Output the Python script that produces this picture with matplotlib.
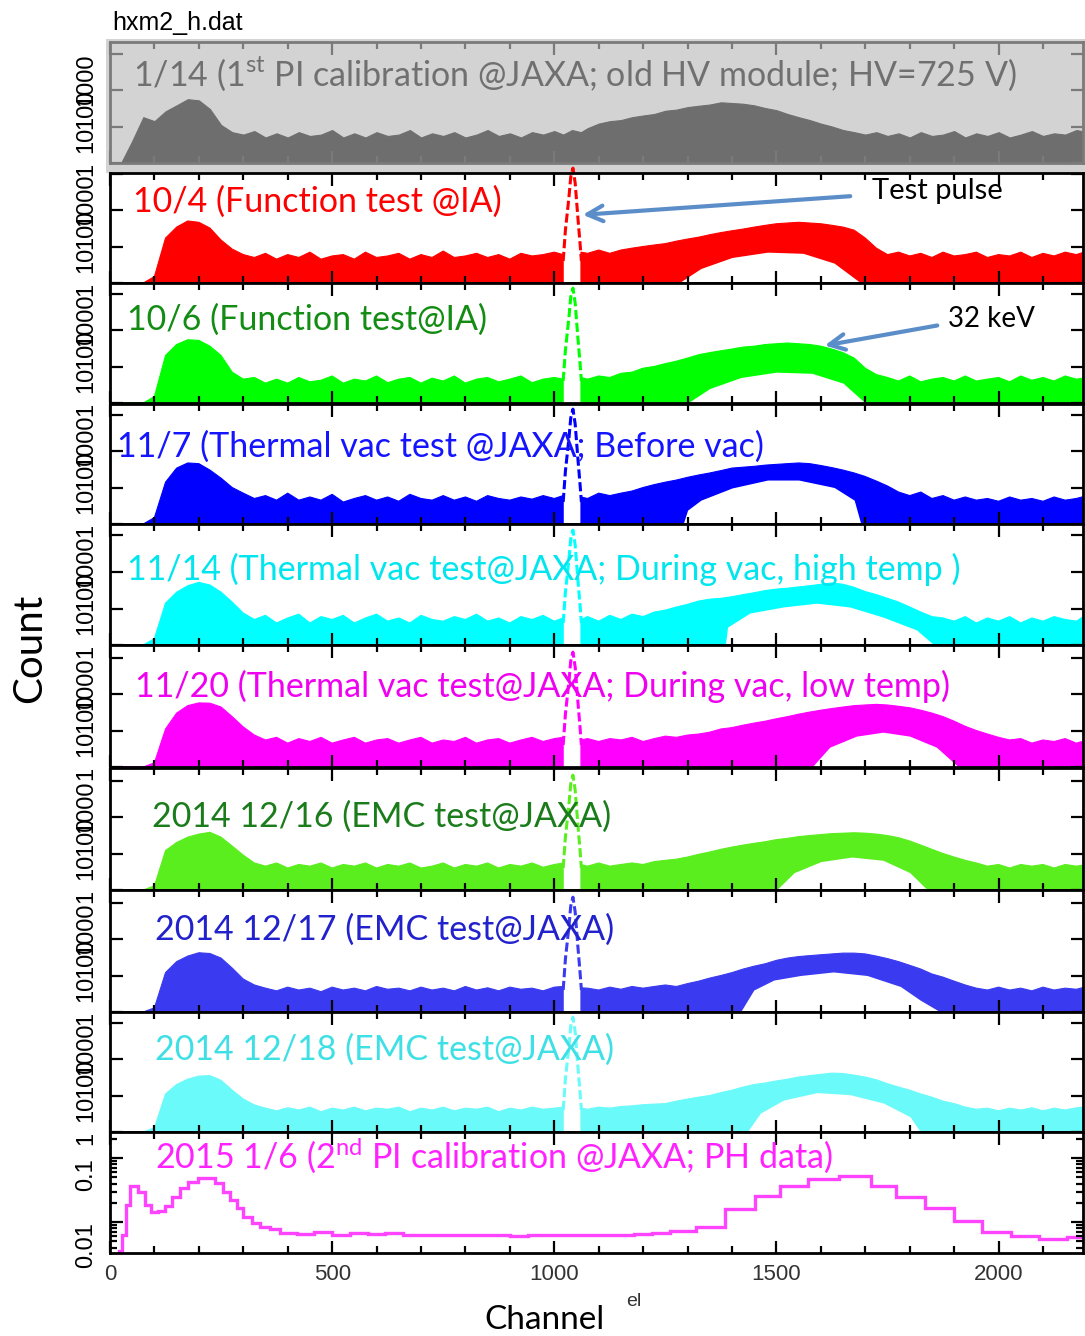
import numpy as np
import matplotlib
matplotlib.use('Agg')
import matplotlib.pyplot as plt
from matplotlib.patches import Rectangle
from matplotlib.ticker import MultipleLocator, LogLocator, NullFormatter

plt.rcParams['font.family'] = ['Lato', 'DejaVu Sans']
plt.rcParams['mathtext.fontset'] = 'custom'
plt.rcParams['mathtext.rm'] = 'Lato'

nan = np.nan

# channel grid of the spectra (gap at 1040 = test pulse window)
channel = np.r_[np.arange(0, 1001, 25), [1020, 1040, 1060], np.arange(1075, 2201, 25)]

# upper envelope of each spectrum (counts per channel)
gray_top = [1, 1, 4, 18, 14, 26, 38, 56, 52, 30,
            11, 7, 6, 7.5, 5, 6.5, 5, 7, 5.5, 6,
            8, 5, 6.5, 5, 7, 5.5, 6, 8, 5, 6.5,
            5.5, 7, 5, 6, 8, 5.5, 6.5, 5, 7, 6,
            7.5, 6, 8, 7, 9, 12, 14, 15, 18, 20,
            22, 27, 29, 34, 37, 40, 46, 44, 42, 38,
            32, 28, 22, 18, 15, 12, 10, 8, 7, 6,
            7, 5.5, 6.5, 5, 7, 5.5, 6, 7.5, 5, 6.5,
            5.5, 7, 5, 6, 7.5, 5.5, 6.5, 6, 8, 7]
red_top = [1, 1, 1, 1, 1.5, 17, 34, 50, 46, 32,
           15, 8.5, 6, 5, 6.5, 4.5, 6, 5, 7, 4.5,
           5.5, 6, 4.5, 7, 5, 5.5, 6.5, 4.5, 6, 5,
           7.5, 5, 5.5, 6.5, 5, 6, 4.5, 6.5, 5.5, 6,
           7, 6, nan, 7, 6.5, 8, 6.5, 8, 9, 10,
           11, 12, 14, 16, 18, 21, 24, 27, 30, 34,
           38, 42, 44, 46, 44, 42, 38, 34, 28, 17,
           9, 6, 7, 5.5, 6.5, 5, 7, 5.5, 6, 7,
           5, 6, 5.5, 7, 5, 6.5, 5.5, 7, 6, 7.5]
green_top = [1, 1, 1, 1, 1.5, 20, 40, 54, 52, 36,
             20, 7, 4.5, 5, 3.5, 4.5, 3.5, 5, 3.8, 4.2,
             5.5, 3.5, 4.5, 4, 5.5, 3.6, 4.5, 5, 3.5, 4.8,
             4, 5.5, 3.5, 4.5, 5, 3.8, 4.5, 5.5, 3.6, 4.5,
             5, 4.5, nan, 5, 4.5, 5.5, 5, 6.5, 7, 9,
             10, 12, 14, 17, 21, 24, 27, 30, 34, 36,
             40, 42, 44, 42, 40, 36, 30, 24, 17, 9,
             6, 5, 4, 5.5, 3.8, 4.5, 5, 4, 5.5, 4,
             4.5, 5, 3.8, 5.5, 4.2, 5, 4, 5.5, 4.5, 5]
blue_top = [1, 1, 1, 1, 1.5, 14, 34, 47, 45, 30,
            18, 10, 7, 5, 6, 4.5, 7, 4.5, 5.5, 4.5,
            6.5, 4, 5, 6, 4.5, 5.5, 4.2, 6.5, 5, 4.5,
            6, 4.5, 5.5, 4.2, 6, 5, 4.5, 5.5, 4.8, 6,
            5, 6, nan, 5.5, 5, 7, 6, 7, 8, 10,
            12, 14, 16, 19, 22, 25, 29, 34, 36, 38,
            41, 43, 45, 47, 45, 40, 35, 30, 25, 20,
            15, 11, 7.5, 6, 7.5, 5, 6, 4.5, 5.5, 4.5,
            5, 4.2, 5.5, 4.5, 5, 4.2, 5.5, 4.5, 5, 6]
cyan_top = [1, 1, 1, 1, 1.5, 14, 28, 42, 52, 44,
            28, 15, 7.5, 5, 6.5, 4, 5.5, 7, 4, 6,
            5, 6.5, 4, 5.5, 7, 4.5, 5.5, 4, 6.5, 5,
            4.5, 6, 5, 7, 4.5, 5.5, 4, 6, 5, 6.5,
            4.5, 5.5, nan, 5, 6, 4.5, 6.5, 5, 7, 6,
            8, 9, 11, 13, 16, 18, 19, 21, 24, 27,
            31, 34, 36, 39, 42, 46, 50, 46, 38, 29,
            24, 19, 15, 11, 8, 6, 5.5, 4.5, 6, 4,
            5.5, 4.5, 6, 4, 5.5, 4.5, 6, 5, 4.5, 7]
magenta_top = [1, 1, 1, 1, 1.3, 11, 30, 48, 57, 56,
               44, 24, 12.5, 7.5, 5.5, 6.5, 4.5, 6, 5, 6.5,
               4.5, 5.5, 6.5, 4.5, 5.5, 6, 4.5, 5.5, 6.5, 4.5,
               5.5, 5, 6.5, 4.5, 5.5, 6, 4.5, 5.5, 6.5, 5,
               6, 6.5, nan, 5.5, 6, 5, 6, 5.5, 6.5, 5,
               6, 7, 6.5, 7.5, 8, 9, 11, 12, 14, 16,
               18, 21, 24, 28, 32, 36, 40, 44, 48, 50,
               52, 50, 46, 42, 36, 30, 24, 18, 13, 10,
               8, 6.5, 5.5, 6, 4.5, 5.5, 5, 6, 4.5, 5.5]
green2_top = [1, 1, 1, 1, 1.3, 12, 20, 28, 34, 38,
              28, 16, 9, 5.5, 4.5, 5.5, 4, 5, 4.5, 5.5,
              4, 5, 4.5, 5.5, 4, 5, 4.5, 5.5, 4, 4.5,
              5.5, 4, 5, 4.5, 5.5, 4, 5, 4.5, 5.5, 4.2,
              5, 5.5, nan, 5, 4.5, 5.5, 4.5, 5, 5.5, 5,
              6, 6.5, 7, 8, 9.5, 11, 13, 15, 17, 19,
              21, 24, 26, 29, 31, 33, 35, 36, 37, 36,
              34, 31, 27, 22, 17, 13, 10, 8, 6.5, 5.5,
              4.5, 5, 4, 5, 4.5, 5, 4, 5, 4.5, 5]
blue2_top = [1, 1, 1, 1, 1.3, 12, 24, 34, 42, 40,
             30, 16, 8, 5.5, 4.5, 3.8, 4.8, 4, 4.5, 3.6,
             4.8, 4, 4.5, 3.8, 5, 4.2, 4.5, 3.8, 4.8, 4,
             4.5, 3.8, 5, 4, 4.6, 3.8, 4.8, 4.2, 4.5, 3.8,
             4.8, 5, nan, 4.6, 4.5, 4, 4.8, 4.2, 5, 4.5,
             5, 5.5, 5, 6, 7, 8.5, 10, 12, 15, 18,
             21, 26, 30, 33, 35, 37, 39, 41, 41, 39,
             34, 29, 24, 19, 15, 11, 9, 7, 5.5, 4.5,
             4, 4.8, 4, 4.5, 3.8, 4.8, 4, 4.5, 4.2, 5]
cyan2_top = [1, 1, 1, 1, 1.3, 11, 20, 28, 34, 35,
             26, 14, 8, 5.5, 4.5, 3.8, 4.6, 4, 4.8, 3.6,
             4.5, 4, 4.8, 3.8, 4.5, 4.2, 4.8, 3.6, 4.5, 4,
             4.8, 3.8, 4.5, 4.2, 4.8, 3.6, 4.5, 4, 4.8, 4.2,
             4.5, 4.8, nan, 4.5, 4.2, 4.8, 4.5, 5, 5.2, 5.6,
             5.8, 6, 7, 8, 9, 10, 12, 14, 17, 20,
             22, 25, 28, 32, 35, 38, 41, 40, 36, 32,
             27, 21, 17, 14, 11, 9, 7, 6, 4.8, 4.2,
             4.5, 3.8, 4.5, 4, 4.6, 3.8, 4.5, 4, 4.6, 5]

# lower edge of the 32 keV line where the spectrum lifts off the axis
red_hole_ch = [1280, 1330, 1400, 1480, 1560, 1630, 1690]
red_hole = [1, 2.5, 5, 7, 6.5, 3.5, 1]
green_hole_ch = [1300, 1350, 1420, 1500, 1580, 1650, 1700]
green_hole = [1, 2.5, 5, 7, 6.5, 3.5, 1]
blue_hole_ch = [1290, 1300, 1330, 1400, 1480, 1550, 1630, 1675, 1690]
blue_hole = [1, 2.4, 4.5, 9.7, 16, 16, 10, 4.5, 1]
cyan_hole_ch = [1385, 1390, 1440, 1515, 1590, 1665, 1740, 1815, 1855]
cyan_hole = [1, 3.1, 7.5, 11, 14, 11, 5.8, 2.6, 1]
magenta_hole_ch = [1580, 1620, 1680, 1740, 1800, 1860, 1910]
magenta_hole = [1, 3.5, 7, 9, 7, 3.5, 1]
green2_hole_ch = [1500, 1540, 1600, 1670, 1740, 1800, 1840]
green2_hole = [1, 3, 6, 8, 6.5, 3, 1]
blue2_hole_ch = [1419, 1449, 1494, 1554, 1628, 1704, 1779, 1824, 1869]
blue2_hole = [1, 4, 7.5, 10, 12.5, 10, 5, 2.1, 1]
cyan2_hole_ch = [1434, 1464, 1516, 1591, 1666, 1741, 1801, 1824]
cyan2_hole = [1, 3.3, 7.5, 12, 10.5, 6.2, 2.6, 1]

# test pulse
pulse_ch = [1020, 1025, 1033, 1037, 1042, 1047, 1053, 1058, 1061]
pulse_counts = [4, 28, 225, 800, 1400, 550, 64, 12, 4]

# 2015 1/6 PH spectrum (normalised histogram)
ph_edges = [20, 27, 36, 45, 63, 79, 92, 108, 124, 140, 158, 176, 198, 218, 236,
            255, 270, 286, 300, 320, 338, 360, 383, 420, 460, 500, 540, 580, 620,
            660, 700, 740, 780, 820, 860, 900, 940, 980, 1020, 1060, 1100, 1140,
            1180, 1220, 1260, 1320, 1385, 1452, 1509, 1572, 1640, 1712, 1770,
            1835, 1899, 1963, 2027, 2090, 2155, 2200]
ph_values = [0.0036, 0.0063, 0.0185, 0.0365, 0.0294, 0.0185, 0.0143, 0.0150,
             0.0178, 0.0246, 0.034, 0.0422, 0.0487, 0.048, 0.0407, 0.0294,
             0.0221, 0.0166, 0.012, 0.0096, 0.0084, 0.0078, 0.0068, 0.0066,
             0.0070, 0.0063, 0.0068, 0.0065, 0.0067, 0.0062, 0.0064, 0.0063,
             0.0062, 0.0064, 0.0062, 0.0061, 0.0063, 0.0062, 0.0064, 0.0063,
             0.0062, 0.0064, 0.0066, 0.0068, 0.0072, 0.0085, 0.016, 0.0255,
             0.0372, 0.0478, 0.053, 0.0372, 0.0246, 0.0166, 0.0105, 0.0070,
             0.0060, 0.0055, 0.0058]

labels = [
    "1/14 (1$^{\\mathrm{st}}$ PI calibration @JAXA; old HV module; HV=725 V)",
    "10/4 (Function test @IA)",
    "10/6 (Function test@IA)",
    "11/7 (Thermal vac test @JAXA; Before vac)",
    "11/14 (Thermal vac test@JAXA; During vac, high temp )",
    "11/20 (Thermal vac test@JAXA; During vac, low temp)",
    "2014 12/16 (EMC test@JAXA)",
    "2014 12/17 (EMC test@JAXA)",
    "2014 12/18 (EMC test@JAXA)",
    "2015 1/6 (2$^{\\mathrm{nd}}$ PI calibration @JAXA; PH data)",
]

W, H = 1085, 1336
px_decade = 36.5
rows = [(42, 163), (173, 283), (283, 403), (404, 524), (524, 645),
        (645, 767), (768, 890), (890, 1012), (1012, 1132), (1132, 1253)]
label_xy = [(133, 86), (133, 212), (127, 330), (117, 457), (127, 580),
            (135, 697), (152, 827), (155, 940), (155, 1060), (155, 1168)]
label_colors = ['#707070', '#ff0000', '#128c12', '#1414ff', '#00e6ee',
                '#f000f0', '#1b7c1b', '#2222cc', '#3ee0e6', '#ff22ff']

spectra = [(gray_top, '#6e6e6e', None, None),
           (red_top, '#ff0000', red_hole_ch, red_hole),
           (green_top, '#00ff00', green_hole_ch, green_hole),
           (blue_top, '#0000ff', blue_hole_ch, blue_hole),
           (cyan_top, '#00ffff', cyan_hole_ch, cyan_hole),
           (magenta_top, '#ff00ff', magenta_hole_ch, magenta_hole),
           (green2_top, '#5aee1e', green2_hole_ch, green2_hole),
           (blue2_top, '#3a3af0', blue2_hole_ch, blue2_hole),
           (cyan2_top, '#6afafa', cyan2_hole_ch, cyan2_hole)]

fig = plt.figure(figsize=(W / 100, H / 100), dpi=100)
# grey backdrop behind the first spectrum
fig.patches.append(Rectangle((106 / W, 1 - 173 / H), (W - 106) / W, 134 / H,
                             transform=fig.transFigure, fc='#d3d3d3', ec='none', zorder=-1))

axes = []
for i, (top, bot) in enumerate(rows):
    ax = fig.add_axes([110 / W, 1 - bot / H, (1083 - 110) / W, (bot - top) / H])
    edge = '#7a7a7a' if i == 0 else 'black'
    ax.set_xlim(0, 2190)
    ax.set_yscale('log')
    if i < 9:
        ax.set_ylim(1, 10 ** ((bot - top) / px_decade))
        ax.set_yticks([1, 10, 100, 1000])
        ax.set_yticklabels(['1', '10', '100', '1000'])
    else:
        ax.set_ylim(0.0033, 0.255)
        ax.set_yticks([0.01, 0.1])
        ax.set_yticklabels(['0.01', '0.1'])
    ax.yaxis.set_minor_locator(LogLocator(subs=np.arange(2, 10)))
    ax.yaxis.set_minor_formatter(NullFormatter())
    ax.xaxis.set_major_locator(MultipleLocator(500))
    ax.xaxis.set_minor_locator(MultipleLocator(100))
    ax.tick_params(which='both', direction='in', top=True, right=True,
                   width=1.6, color=edge)
    ax.tick_params(which='major', length=9)
    ax.tick_params(which='minor', length=5)
    ax.tick_params(axis='y', labelsize=17, pad=9)
    for lab in ax.get_yticklabels():
        lab.set_rotation(90)
        lab.set_va('top')
        lab.set_family('Liberation Sans')
    if i < 9:
        ax.tick_params(axis='x', labelbottom=False)
    else:
        ax.tick_params(axis='x', labelsize=16, labelcolor='#333333', pad=8)
        for lab in ax.get_xticklabels():
            lab.set_family('Liberation Sans')
    for s in ax.spines.values():
        s.set_linewidth(2)
        s.set_color(edge)
    ax.set_facecolor('#d3d3d3' if i == 0 else 'white')
    axes.append(ax)

for i, (top, color, hole_ch, hole) in enumerate(spectra):
    ax = axes[i]
    ax.fill_between(channel, 1, top, color=color, lw=0.8)
    if hole_ch is not None:
        ax.fill_between(hole_ch, 0.5, hole, color='white', lw=0)
    if i > 0:
        ax.plot(pulse_ch, pulse_counts, color=color, lw=2.2, ls=(0, (3, 1.2)),
                clip_on=(i != 1))

axes[9].stairs(ph_values, ph_edges, color='#ff44ff', lw=2.4)

over = fig.add_axes([0, 0, 1, 1], zorder=5)
over.set_xlim(0, W)
over.set_ylim(H, 0)
over.axis('off')

for text, (x, y), c in zip(labels, label_xy, label_colors):
    over.text(x, y, text, color=c, fontsize=24.5, ha='left', va='baseline')

over.text(112, 30, 'hxm2_h.dat', fontsize=18, family='Liberation Sans', va='baseline')
over.text(872, 199, 'Test pulse', fontsize=21, va='baseline')
over.text(948, 327, '32 keV', fontsize=20, va='baseline')
arrow = dict(arrowstyle='->', color='#5b8ec9', lw=3, mutation_scale=28)
over.annotate('', xy=(580, 215), xytext=(853, 196), arrowprops=arrow)
over.annotate('', xy=(822, 346), xytext=(940, 325), arrowprops=arrow)

over.text(545, 1320, 'Channel', fontsize=24, ha='center', va='center')
over.text(30, 648, 'Count', fontsize=29, ha='center', va='center', rotation=90)
over.text(634, 1302, 'el', fontsize=14, family='Liberation Sans', color='#333333',
          ha='center', va='center')

fig.savefig('out.png', dpi=100)
